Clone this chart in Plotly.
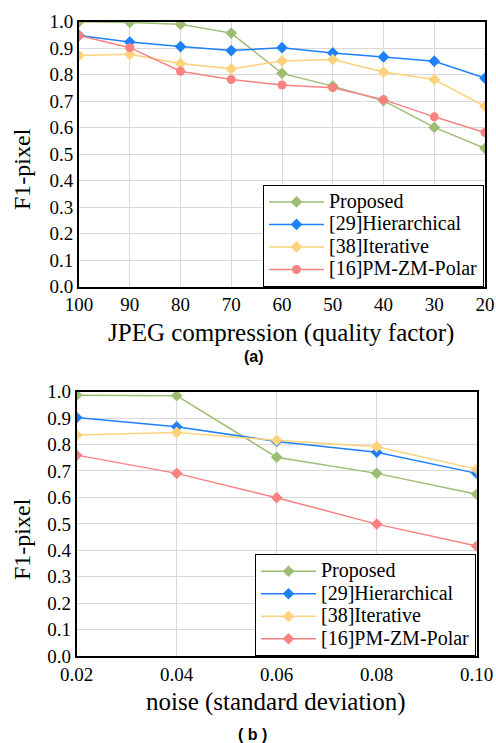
import plotly.graph_objects as go

# ---- data (a) JPEG compression ----
jpeg_q = [100, 90, 80, 70, 60, 50, 40, 30, 20]
a_proposed = [1.0, 0.997, 0.99, 0.957, 0.805, 0.757, 0.702, 0.601, 0.522]
a_hier = [0.948, 0.923, 0.906, 0.891, 0.902, 0.882, 0.867, 0.851, 0.787]
a_iter = [0.872, 0.877, 0.842, 0.822, 0.852, 0.857, 0.810, 0.782, 0.681]
a_pm = [0.948, 0.902, 0.813, 0.782, 0.761, 0.751, 0.706, 0.641, 0.582]

# ---- data (b) noise ----
noise_sd = [0.02, 0.04, 0.06, 0.08, 0.10]
b_proposed = [0.987, 0.985, 0.752, 0.691, 0.612]
b_hier = [0.902, 0.867, 0.812, 0.771, 0.691]
b_iter = [0.836, 0.846, 0.816, 0.792, 0.707]
b_pm = [0.760, 0.691, 0.599, 0.499, 0.416]

names = ["Proposed", "[29]Hierarchical", "[38]Iterative", "[16]PM-ZM-Polar"]
colors = ["#9dbd72", "#1f80fb", "#fdd27c", "#f88282"]

W, H = 496, 743
fig = go.Figure()

serif = "Liberation Serif, Times New Roman, serif"
sans = "Liberation Sans, Arial, sans-serif"

def add(x, ys, xa, ya, leg, last_symbol):
    syms = ["diamond", "diamond", "diamond", last_symbol]
    for n, y, c, s in zip(names, ys, colors, syms):
        fig.add_trace(go.Scatter(
            x=x, y=y, name='<span style="font-size:20px">%s</span>' % n,
            mode="lines+markers",
            line=dict(color=c, width=1.5),
            marker=dict(color=c, symbol=s, size=9),
            hovertemplate="%{x}, %{y}<extra>" + n + "</extra>",
            xaxis=xa, yaxis=ya, legend=leg))

add(jpeg_q, [a_proposed, a_hier, a_iter, a_pm], "x", "y", "legend", "circle")
add(noise_sd, [b_proposed, b_hier, b_iter, b_pm], "x2", "y2", "legend2", "diamond")

ax_common = dict(showline=True, linecolor="black", linewidth=1.8, mirror=True,
                 showgrid=True, gridcolor="#d9d9d9", gridwidth=1, automargin=False,
                 zeroline=False, ticks="", tickfont=dict(family=serif, size=19, color="black"))

y_ticks = [i / 10 for i in range(11)]

leg_common = dict(bgcolor="white", bordercolor="black", borderwidth=1,
                  font=dict(family=serif, size=15, color="black"), itemwidth=55,
                  tracegroupgap=0, yanchor="bottom", xanchor="right", valign="middle")

fig.update_layout(
    width=W, height=H,
    margin=dict(l=0, r=0, t=0, b=0),
    paper_bgcolor="white", plot_bgcolor="white",
    xaxis=dict(domain=[79 / W, 485 / W], range=[100, 20], tickvals=jpeg_q,
               ticktext=[str(v) for v in jpeg_q], anchor="y", **ax_common),
    yaxis=dict(domain=[1 - 286.7 / H, 1 - 21.7 / H], range=[0, 1.0], tickvals=y_ticks,
               tickformat=".1f", anchor="x", **ax_common),
    xaxis2=dict(domain=[76.7 / W, 476.7 / W], range=[0.02, 0.10], tickvals=noise_sd,
                tickformat=".2f", anchor="y2", **ax_common),
    yaxis2=dict(domain=[1 - 656 / H, 1 - 391.7 / H], range=[0, 1.0], tickvals=y_ticks,
                tickformat=".1f", anchor="x2", **ax_common),
    legend=dict(x=484 / W, y=1 - 286.7 / H, **leg_common),
    legend2=dict(x=476 / W, y=1 - 656 / H, **leg_common),
    showlegend=True,
)

def note(text, x, y, size, family, angle=0):
    fig.add_annotation(text=text, x=x / W, y=1 - y / H, xref="paper", yref="paper",
                       xanchor="center", yanchor="middle", showarrow=False, textangle=angle,
                       font=dict(family=family, size=size, color="black"))

note("JPEG compression (quality factor)", 281, 333, 25, serif)
note("<b>(a)</b>", 254, 356, 16, sans)
note("F1-pixel", 22, 169, 24, serif, -90)
note("noise (standard deviation)", 276, 702, 25, serif)
note("<b>( b )</b>", 252, 734, 16, sans)
note("F1-pixel", 22, 539, 24, serif, -90)

fig.write_html("out.html", config={"displayModeBar": False},
               post_script="document.body.style.margin='0';document.body.style.overflow='hidden';")
